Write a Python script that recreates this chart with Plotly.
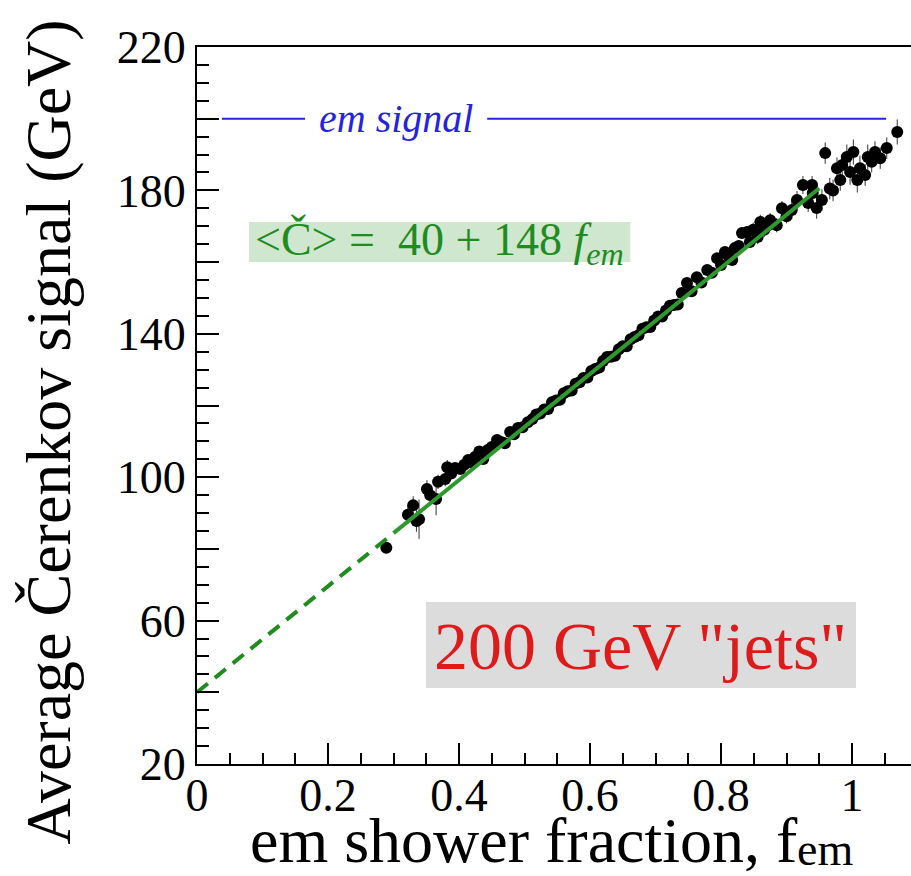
import plotly.graph_objects as go

# Cerenkov signal vs em shower fraction, 200 GeV "jets"
f_em = [
    0.289, 0.322, 0.330, 0.335, 0.339, 0.351, 0.356, 0.365, 0.368, 0.379,
    0.382, 0.388, 0.394, 0.402, 0.408, 0.414, 0.420, 0.424, 0.431, 0.437,
    0.444, 0.450, 0.458, 0.464, 0.470, 0.478, 0.484, 0.490, 0.497,
    0.505, 0.512, 0.518, 0.524, 0.530, 0.536, 0.542, 0.548, 0.554, 0.560,
    0.566, 0.572, 0.578, 0.584, 0.590, 0.596, 0.602, 0.608, 0.614, 0.620,
    0.626, 0.632, 0.638, 0.644, 0.650, 0.656, 0.662, 0.668, 0.674, 0.680,
    0.686, 0.692, 0.698, 0.704, 0.710, 0.716, 0.722, 0.728, 0.734,
    0.740, 0.748, 0.755, 0.763, 0.770, 0.779, 0.786, 0.794, 0.800, 0.806,
    0.812, 0.817, 0.821, 0.827, 0.832, 0.840, 0.844, 0.849, 0.856, 0.860,
    0.866, 0.872, 0.875, 0.885, 0.893, 0.900, 0.908, 0.916, 0.925, 0.933,
    0.939, 0.940, 0.946, 0.954,
    0.959, 0.966, 0.971, 0.977, 0.982, 0.985, 0.992, 0.997, 1.002, 1.008,
    1.012, 1.020, 1.024, 1.030, 1.035, 1.043, 1.053, 1.069,
]
signal = [
    80.3, 89.5, 92.2, 87.8, 88.3, 96.7, 95.0, 93.9, 98.7, 99.5,
    102.8, 101.0, 102.6, 102.3, 103.5, 104.8, 104.0, 105.6, 107.2, 105.1,
    107.6, 108.4, 110.4, 109.8, 109.5, 112.6, 112.0, 113.7, 113.9,
    115.3, 116.2, 117.5, 117.8, 118.9, 119.0, 120.9, 121.4, 121.6, 123.4,
    124.0, 124.2, 126.1, 126.5, 127.7, 127.8, 129.6, 130.2, 130.6, 132.4,
    133.5, 133.6, 133.9, 135.7, 136.5, 136.5, 138.5, 139.1, 139.6, 141.4,
    141.8, 141.9, 143.7, 144.8, 144.8, 146.5, 147.8, 148.0, 148.2,
    151.4, 154.2, 151.9, 155.8, 154.3, 157.8, 157.0, 161.1, 159.2, 162.8,
    161.5, 160.6, 163.9, 164.5, 168.1, 168.4, 165.6, 169.0, 167.0, 171.2,
    169.0, 170.3, 171.7, 170.3, 175.0, 172.8, 174.5, 177.3, 181.5, 176.5,
    181.5, 179.3, 175.1, 177.3,
    190.4, 180.5, 180.0, 186.2, 182.9, 187.1, 189.3, 185.1, 190.7, 182.9,
    186.2, 184.3, 189.3, 188.0, 190.7, 189.0, 191.8, 196.3,
]
signal_err = [
    1.5, 2.5, 2.5, 3.0, 5.5, 2.5, 2.5, 4.5, 2.0, 2.0,
    2.0, 1.5, 1.5, 1.5, 1.5, 1.5, 1.5, 1.2, 1.2, 1.2,
    1.2, 1.2, 1.0, 1.0, 1.0, 1.0, 1.0, 1.0, 1.0,
    0.8, 0.8, 0.8, 0.8, 0.8, 0.8, 0.8, 0.8, 0.8, 0.8,
    0.8, 0.8, 0.8, 0.8, 0.8, 0.8, 0.8, 0.8, 0.8, 0.8,
    0.8, 0.8, 0.8, 0.8, 0.8, 0.8, 0.8, 0.8, 0.8, 0.8,
    0.8, 0.8, 0.8, 0.8, 0.8, 0.8, 0.8, 0.8, 0.8,
    1.0, 1.0, 1.0, 1.0, 1.0, 1.2, 1.2, 1.2, 1.2, 1.2,
    1.5, 1.5, 1.5, 1.5, 1.5, 1.5, 1.5, 2.0, 2.0, 2.0,
    2.0, 2.0, 2.0, 2.0, 2.0, 2.0, 2.5, 2.5, 2.5, 2.5,
    2.5, 2.5, 3.0, 3.0,
    3.0, 3.0, 3.0, 3.0, 3.0, 3.0, 3.5, 3.5, 3.5, 3.5,
    3.5, 3.0, 3.5, 3.0, 3.0, 3.0, 3.0, 3.5,
]

# Linear fit <C> = 40 + 148 f_em
fit_intercept = 40
fit_slope = 148
fit_dashed_x = [0.0, 0.30]
fit_solid_x = [0.30, 0.95]

# em signal reference level
em_signal = 200
em_left_x = [0.038, 0.165]
em_right_x = [0.443, 1.052]

x_ticks = [0, 0.2, 0.4, 0.6, 0.8, 1.0]
x_ticktext = ["0", "0.2", "0.4", "0.6", "0.8", "1"]
y_ticks = [20, 40, 60, 80, 100, 120, 140, 160, 180, 200, 220]
y_ticktext = ["20", " ", "60", " ", "100", " ", "140", " ", "180", " ", "220"]

SERIF = "Liberation Serif"
GREEN = "#1e8c1e"
BLUE = "#2424e0"

fig = go.Figure()

# label boxes (drawn below the data)
fig.add_shape(type="rect", xref="x", yref="y", layer="below",
              x0=0.0795, x1=0.6615, y0=160.0, y1=171.2,
              fillcolor="#cfe6cf", line=dict(width=0))
fig.add_shape(type="rect", xref="x", yref="y", layer="below",
              x0=0.3496, x1=1.0061, y0=41.2, y1=65.2,
              fillcolor="#dcdcdc", line=dict(width=0))

fig.add_trace(go.Scatter(
    x=f_em, y=signal, mode="markers",
    marker=dict(color="black", size=12),
    error_y=dict(type="data", array=signal_err, color="#333333",
                 thickness=1, width=0),
    showlegend=False,
))

fig.add_trace(go.Scatter(
    x=fit_dashed_x, y=[fit_intercept + fit_slope * v for v in fit_dashed_x],
    mode="lines", line=dict(color=GREEN, width=4, dash="14px,9px"),
    showlegend=False,
))
fig.add_trace(go.Scatter(
    x=fit_solid_x, y=[fit_intercept + fit_slope * v for v in fit_solid_x],
    mode="lines", line=dict(color="#2e9a2e", width=4),
    showlegend=False,
))

for seg in (em_left_x, em_right_x):
    fig.add_trace(go.Scatter(
        x=seg, y=[em_signal, em_signal], mode="lines",
        line=dict(color=BLUE, width=2), showlegend=False,
    ))

fig.add_annotation(
    x=0.304, y=em_signal, xref="x", yref="y", text="<i>em signal</i>",
    showarrow=False, font=dict(family=SERIF, size=40, color=BLUE),
    xanchor="center", yanchor="middle",
)

fig.add_annotation(
    x=0.3705, y=165.4, xref="x", yref="y",
    text="&lt;Č&gt; =  40 + 148 <i>f<sub>em</sub></i>",
    showarrow=False, font=dict(family=SERIF, size=46, color=GREEN),
    xanchor="center", yanchor="middle",
)

fig.add_annotation(
    x=0.6778, y=53.0, xref="x", yref="y",
    text='200 GeV "jets"',
    showarrow=False, font=dict(family=SERIF, size=68, color="#dd1b1b"),
    xanchor="center", yanchor="middle",
)

# x axis title, with the "em" index set slightly lowered
fig.add_annotation(
    x=0.0714, y=-0.106, xref="paper", yref="paper", xanchor="left", yanchor="middle",
    text="em shower fraction, f", showarrow=False,
    font=dict(family=SERIF, size=64, color="black"),
)
fig.add_annotation(
    x=0.8375, y=-0.119, xref="paper", yref="paper", xanchor="left", yanchor="middle",
    text="em", showarrow=False,
    font=dict(family=SERIF, size=46, color="black"),
)
fig.add_annotation(
    x=-0.208, y=0.463, xref="paper", yref="paper", xanchor="center", yanchor="middle",
    text="Average Čerenkov signal (GeV)", showarrow=False, textangle=-90,
    font=dict(family=SERIF, size=64, color="black"),
)

fig.update_xaxes(
    range=[0, 1.090], showgrid=False, zeroline=False,
    showline=True, linecolor="black", linewidth=2, mirror=True,
    ticks="inside", ticklen=21, tickwidth=1.5, tickcolor="black",
    tickvals=x_ticks, ticktext=x_ticktext, ticklabelstandoff=-10,
    tickfont=dict(family=SERIF, size=46, color="black"),
    minor=dict(dtick=0.05, tick0=0, ticks="inside", ticklen=11,
               tickwidth=1.5, tickcolor="black"),
)
fig.update_yaxes(
    range=[20, 220], showgrid=False, zeroline=False,
    showline=True, linecolor="black", linewidth=2,
    ticks="inside", ticklen=22, tickwidth=1.5, tickcolor="black",
    tickvals=y_ticks, ticktext=y_ticktext,
    tickfont=dict(family=SERIF, size=46, color="black"),
    minor=dict(dtick=5, tick0=20, ticks="inside", ticklen=12,
               tickwidth=1.5, tickcolor="black"),
)

fig.update_layout(
    width=911, height=876,
    margin=dict(l=197, r=0, t=47, b=112),
    paper_bgcolor="white", plot_bgcolor="white",
    font=dict(family=SERIF, color="black"),
    showlegend=False,
)

fig.write_html("out.html")
